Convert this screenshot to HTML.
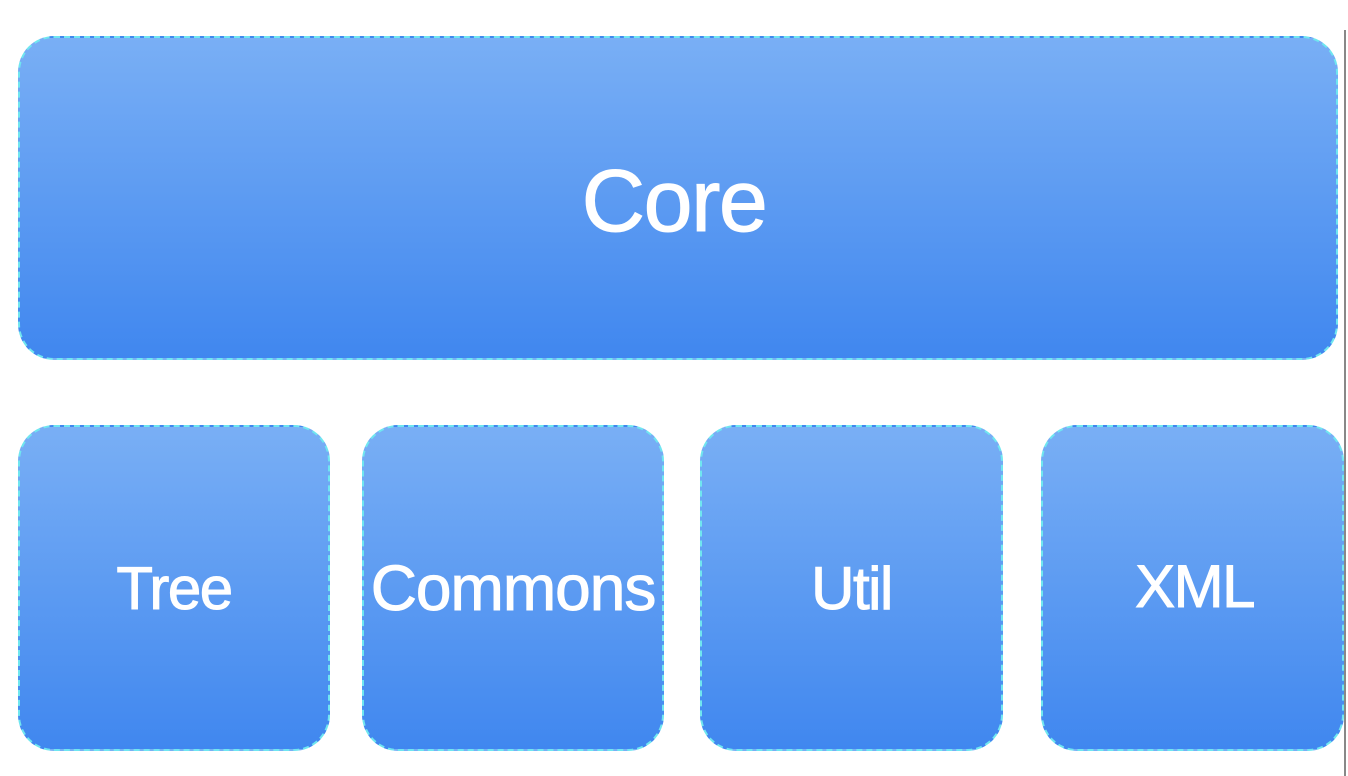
<!DOCTYPE html>
<html><head><style>
html,body{margin:0;padding:0;background:#fff;width:1348px;height:776px;overflow:hidden;position:relative;font-family:"Liberation Sans",sans-serif}
.b{position:absolute;box-sizing:border-box;border:2px dashed #6fe6f0;border-radius:36px;background:linear-gradient(#79aff5,#4087ef);color:#fff;display:flex;align-items:center;justify-content:center;letter-spacing:-1.5px;-webkit-text-stroke:1px #fff}
.s{font-size:60px}
.line{position:absolute;left:1344px;top:30px;width:2px;height:746px;background:#888}
</style></head><body>
<div class="b" style="left:18px;top:36px;width:1320px;height:324px;font-size:88px;padding-top:6px;padding-right:8px">Core</div>
<div class="b s" style="left:18px;top:425px;width:312px;height:326px">Tree</div>
<div class="b s" style="left:362px;top:425px;width:302px;height:326px;letter-spacing:-1px;font-size:64px">Commons</div>
<div class="b s" style="left:700px;top:425px;width:303px;height:326px">Util</div>
<div class="b s" style="left:1041px;top:425px;width:303px;height:326px;padding-left:4px;padding-bottom:4px">XML</div>
<div class="line"></div>
</body></html>
